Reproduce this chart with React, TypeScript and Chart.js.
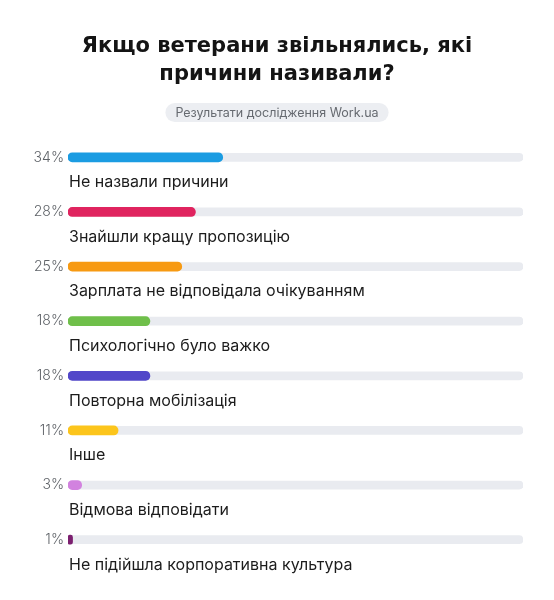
import React, { useEffect, useRef } from "react";
import { Chart, registerables } from "chart.js";

Chart.register(...registerables);

const TITLE_LINES = ["Якщо ветерани звільнялись, які", "причини називали?"];
const SUBTITLE = "Результати дослідження Work.ua";

const categories = [
  "Не назвали причини",
  "Знайшли кращу пропозицію",
  "Зарплата не відповідала очікуванням",
  "Психологічно було важко",
  "Повторна мобілізація",
  "Інше",
  "Відмова відповідати",
  "Не підійшла корпоративна культура",
];
const values = [34, 28, 25, 18, 18, 11, 3, 1];
const percentLabels = ["34%", "28%", "25%", "18%", "18%", "11%", "3%", "1%"];
const barColors = [
  "#1b9ce2",
  "#e0245f",
  "#f79a12",
  "#6fbf4a",
  "#5247c9",
  "#fcc51c",
  "#d282df",
  "#7b1f6f",
];
const trackValues = [100, 100, 100, 100, 100, 100, 100, 100];

const FONT = "Inter, 'Open Sans', sans-serif";
const TITLE_FONT = "'DejaVu Sans', Inter, sans-serif";

const headerPlugin = {
  id: "header",
  beforeDraw(chart: any) {
    const ctx = chart.ctx;
    const cx = chart.width / 2;
    ctx.save();
    ctx.fillStyle = "#ffffff";
    ctx.fillRect(0, 0, chart.width, chart.height);
    ctx.fillStyle = "#141414";
    ctx.font = `bold 21px ${TITLE_FONT}`;
    ctx.textAlign = "center";
    ctx.textBaseline = "alphabetic";
    ctx.fillText(TITLE_LINES[0], cx, 52);
    ctx.fillText(TITLE_LINES[1], cx, 80);
    // pill
    ctx.font = `400 12.5px ${FONT}`;
    const w = ctx.measureText(SUBTITLE).width + 20;
    const h = 19;
    const x = cx - w / 2;
    const y = 103;
    ctx.fillStyle = "#eceef2";
    ctx.beginPath();
    ctx.roundRect(x, y, w, h, h / 2);
    ctx.fill();
    ctx.fillStyle = "#666a70";
    ctx.textBaseline = "middle";
    ctx.fillText(SUBTITLE, cx, y + h / 2 + 0.5);
    ctx.restore();
  },
};

const categoryLabelPlugin = {
  id: "categoryLabels",
  afterDatasetsDraw(chart: any) {
    const ctx = chart.ctx;
    const yScale = chart.scales.y;
    const left = chart.chartArea.left;
    ctx.save();
    ctx.font = `400 16px ${FONT}`;
    ctx.fillStyle = "#1c1c1c";
    ctx.textAlign = "left";
    ctx.textBaseline = "middle";
    categories.forEach((c, i) => {
      const y = yScale.getPixelForValue(i);
      ctx.fillText(c, left + 1, y + 25);
    });
    ctx.restore();
  },
};

export default function App() {
  const ref = useRef<HTMLCanvasElement>(null);
  useEffect(() => {
    if (!ref.current) return;
    const chart = new Chart(ref.current, {
      type: "bar",
      data: {
        labels: categories,
        datasets: [
          {
            data: values,
            backgroundColor: barColors,
            barThickness: 9,
            borderRadius: 5,
            borderSkipped: false,
            grouped: false,
            order: 0,
          } as any,
          {
            data: trackValues,
            backgroundColor: "#e9ebf0",
            barThickness: 8,
            borderRadius: 4,
            borderSkipped: false,
            grouped: false,
            order: 1,
          } as any,
        ],
      },
      options: {
        indexAxis: "y",
        responsive: false,
        animation: false,
        layout: { padding: { top: 130, bottom: 33, left: 0, right: 31 } },
        plugins: {
          legend: { display: false },
          tooltip: { enabled: false },
          title: { display: false },
        },
        scales: {
          x: { display: false, min: 0, max: 100 },
          y: {
            border: { display: false },
            grid: { display: false, drawTicks: false },
            ticks: {
              padding: 4,
              color: "#5f6368",
              font: { family: FONT, size: 14, weight: "300" as any },
              callback: (_v: any, i: number) => percentLabels[i],
            },
            afterFit: (scale: any) => {
              scale.width = 68;
            },
          },
        },
      },
      plugins: [headerPlugin, categoryLabelPlugin],
    });
    return () => chart.destroy();
  }, []);
  return (
    <div style={{ position: "absolute", left: 0, top: 0, width: 554, height: 600, background: "#fff" }}>
      <canvas ref={ref} width={554} height={600} />
    </div>
  );
}
